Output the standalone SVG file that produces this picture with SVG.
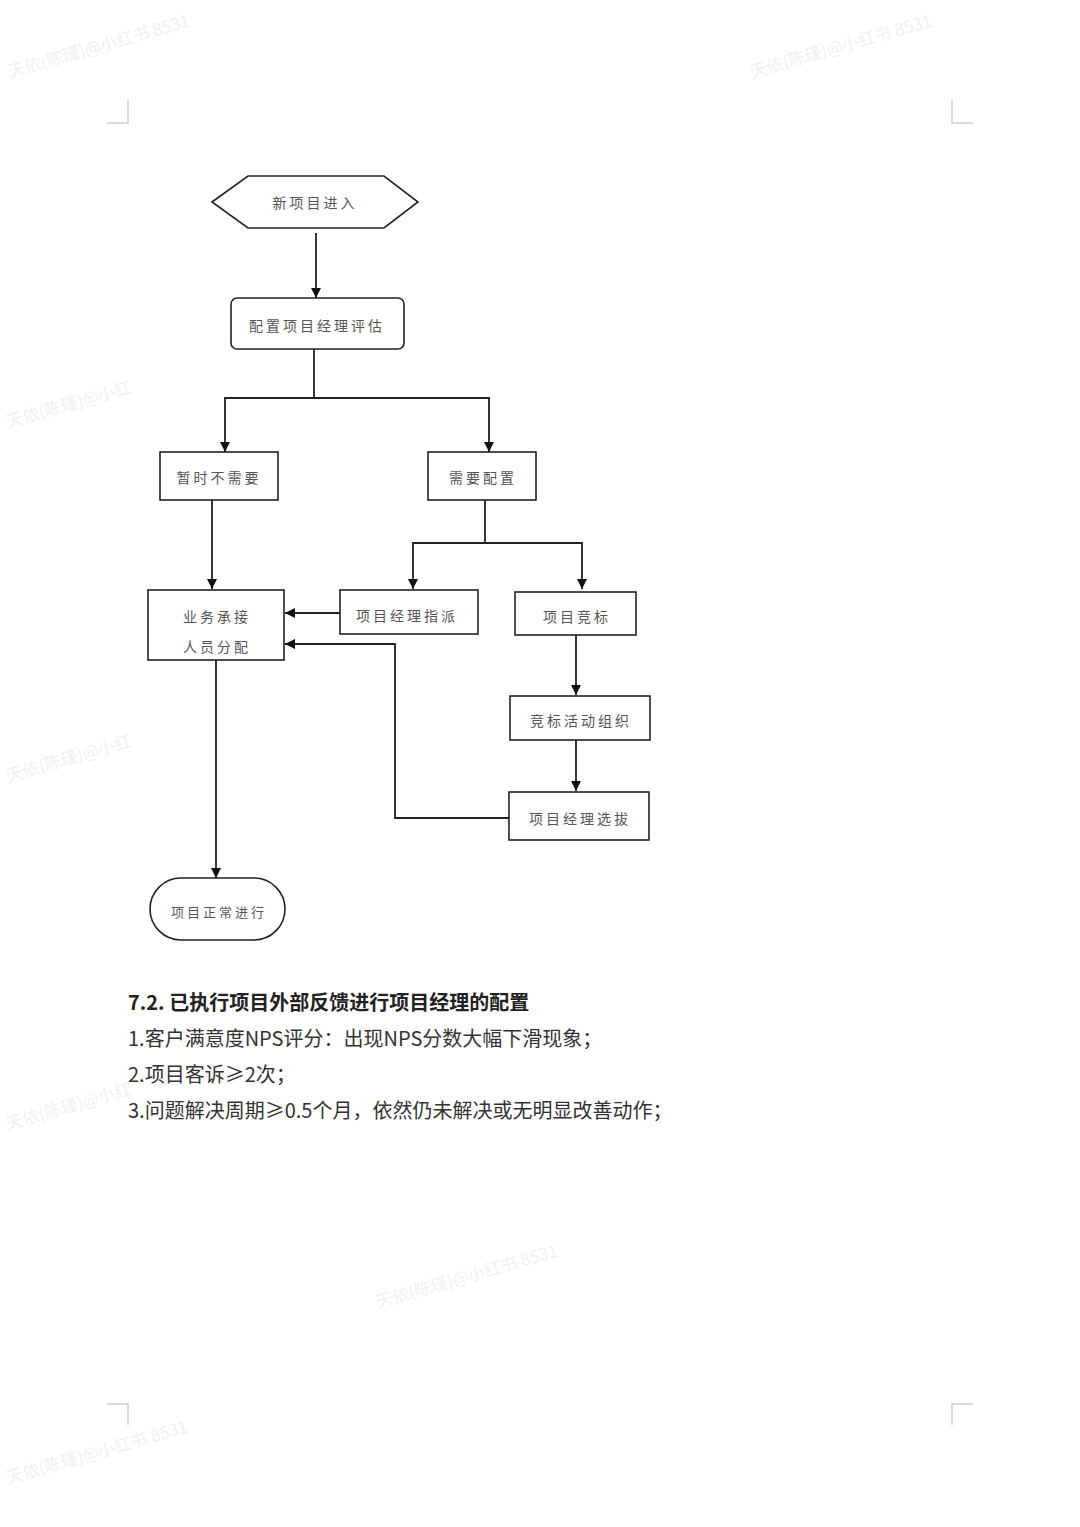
<svg xmlns="http://www.w3.org/2000/svg" width="1080" height="1527" viewBox="0 0 1080 1527">
<defs>
<marker id="ah" viewBox="0 0 12 12" refX="12" refY="6" markerWidth="10" markerHeight="12" markerUnits="userSpaceOnUse" orient="auto">
<path d="M0,0 L12,6 L0,12 z" fill="#111"/>
</marker>
<style>
.box{fill:#fff;stroke:#222;stroke-width:1.6}
.lbl{font-family:"Noto Sans CJK SC","Noto Sans",sans-serif;font-size:14px;fill:#555;letter-spacing:3px;text-anchor:middle;dominant-baseline:central}
.con{fill:none;stroke:#222;stroke-width:1.8}
.arr{fill:none;stroke:#222;stroke-width:1.8;marker-end:url(#ah)}
.body{font-family:"Noto Sans CJK SC","Liberation Sans",sans-serif;font-size:20px;fill:#333}
.wm{font-family:"Noto Sans CJK SC",sans-serif;font-size:17px;fill:#f0f0f0}
.crn{fill:none;stroke:#cfcfcf;stroke-width:1.5}
</style>
</defs>
<rect width="1080" height="1527" fill="#fff"/>
<g id="watermarks">
<text class="wm" transform="translate(10,78) rotate(-16)">天依(陈瑾)@小红书 8531</text>
<text class="wm" transform="translate(752,78) rotate(-16)">天依(陈瑾)@小红书 8531</text>
<text class="wm" transform="translate(8,428) rotate(-16)">天依(陈瑾)@小红</text>
<text class="wm" transform="translate(8,782) rotate(-16)">天依(陈瑾)@小红</text>
<text class="wm" transform="translate(8,1130) rotate(-16)">天依(陈瑾)@小红</text>
<text class="wm" transform="translate(378,1308) rotate(-16)">天依(陈瑾)@小红书 8531</text>
<text class="wm" transform="translate(8,1484) rotate(-16)">天依(陈瑾)@小红书 8531</text>
</g>
<g id="corners">
<path class="crn" d="M107,123 H128 V100"/>
<path class="crn" d="M973,123 H952 V100"/>
<path class="crn" d="M107,1404 H128 V1425"/>
<path class="crn" d="M973,1404 H952 V1425"/>
</g>
<g id="connectors">
<path class="arr" d="M316,233 V298"/>
<path class="con" d="M314,349 V398"/>
<path class="arr" d="M225,398 H489 V452"/>
<path class="arr" d="M314,398 H225 V452"/>
<path class="con" d="M485,500 V543"/>
<path class="arr" d="M413,543 H582 V589"/>
<path class="arr" d="M485,543 H413 V589"/>
<path class="arr" d="M212,500 V589"/>
<path class="arr" d="M340,613 H285"/>
<path class="arr" d="M576,635 V695"/>
<path class="arr" d="M576,740 V791"/>
<path class="arr" d="M509,818 H395 V644 H285"/>
<path class="arr" d="M216,660 V878"/>
</g>
<g id="n-start">
<polygon class="box" points="212,202 248,176 384,176 418,202 384,228 248,228"/>
<text class="lbl" x="315" y="202">新项目进入</text>
</g>
<g id="n-eval">
<rect class="box" x="231" y="298" width="173" height="51" rx="6"/>
<text class="lbl" x="317" y="325">配置项目经理评估</text>
</g>
<g id="n-notneed">
<rect class="box" x="160" y="452" width="118" height="48"/>
<text class="lbl" x="219" y="477">暂时不需要</text>
</g>
<g id="n-need">
<rect class="box" x="428" y="452" width="108" height="48"/>
<text class="lbl" x="483" y="477">需要配置</text>
</g>
<g id="n-assign">
<rect class="box" x="148" y="590" width="136" height="70"/>
<text class="lbl" x="217" y="616">业务承接</text>
<text class="lbl" x="217" y="646">人员分配</text>
</g>
<g id="n-pmassign">
<rect class="box" x="340" y="590" width="138" height="44"/>
<text class="lbl" x="407" y="615">项目经理指派</text>
</g>
<g id="n-bid">
<rect class="box" x="515" y="592" width="121" height="43"/>
<text class="lbl" x="577" y="616">项目竞标</text>
</g>
<g id="n-bidorg">
<rect class="box" x="510" y="696" width="140" height="44"/>
<text class="lbl" x="581" y="720">竞标活动组织</text>
</g>
<g id="n-select">
<rect class="box" x="509" y="792" width="140" height="48"/>
<text class="lbl" x="580" y="818">项目经理选拔</text>
</g>
<g id="n-end">
<rect class="box" x="150" y="878" width="135" height="62" rx="31"/>
<text class="lbl" x="219" y="911" style="font-size:13px">项目正常进行</text>
</g>
<g id="text-section">
<text class="body" x="128" y="1010" style="font-weight:bold;fill:#222">7.2. 已执行项目外部反馈进行项目经理的配置</text>
<text class="body" x="128" y="1046">1.客户满意度NPS评分：出现NPS分数大幅下滑现象；</text>
<text class="body" x="128" y="1082">2.项目客诉≥2次；</text>
<text class="body" x="128" y="1118">3.问题解决周期≥0.5个月，依然仍未解决或无明显改善动作；</text>
</g>
</svg>
